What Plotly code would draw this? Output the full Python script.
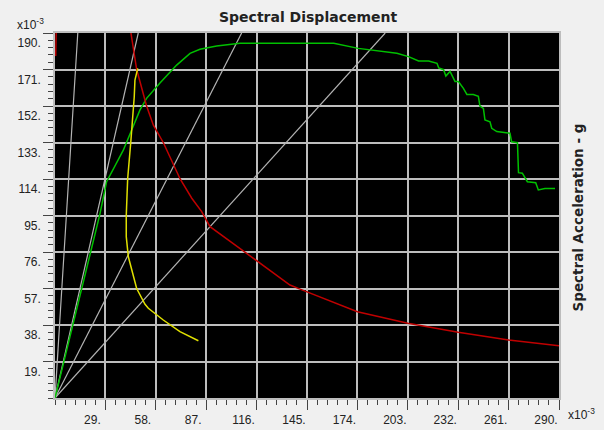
import plotly.graph_objects as go

# ---- data (units of 1e-3) ----
x_ticks = [29, 58, 87, 116, 145, 174, 203, 232, 261, 290]
x_tick_labels = ["29.", "58.", "87.", "116.", "145.", "174.", "203.", "232.", "261.", "290."]
y_ticks = [19, 38, 57, 76, 95, 114, 133, 152, 171, 190]
y_tick_labels = ["19.", "38.", "57.", "76.", "95.", "114.", "133.", "152.", "171.", "190."]

# radial period lines from origin: end points
ray_end_x = [13.1, 47.9, 107.4, 190.0]
ray_end_y = [190, 190, 190, 190]

# demand spectrum (red)
red_x = [0.4, 0.9, None, 43.7, 47.0, 52.7, 56.6, 62.3, 72.0, 78.7, 84.4, 89.2, 114.0, 135.2, 141.0,
         174.0, 203.0, 232.0, 261.0, 290.0]
red_y = [178, 200, None, 190, 171, 152, 142, 133, 114, 104, 97, 89.2, 72.7, 58.8, 56.7,
         44.9, 38.9, 34.2, 30.2, 27.2]

# reduced demand / performance (yellow)
yellow_x = [47.6, 46.0, 45.6, 45.1, 43.7, 41.8, 41.0, 41.0, 42.2, 47.0, 51.8, 53.7, 62.3, 71.9, 82.5]
yellow_y = [171.6, 165.5, 156.8, 149.9, 134.3, 114, 95, 84, 73.5, 57, 48.8, 46.7, 40.6, 34.5, 29.8]

# capacity curve (green)
green_x = [0, 25.9, 29.7, 39.3, 48.9, 52.7, 60.4, 70.0, 77.7, 83.4, 93.0, 106.4, 160.4, 174.5,
           196.7, 203.4, 209.2, 215.0, 219.8, 220.8, 223.6, 224.9, 227.3, 230.2, 232.1, 235.0,
           237.0, 240.7, 243.6, 244.5, 246.5, 247.4, 250.3, 251.3, 254.2, 261.8, 262.7, 266.1,
           266.7, 268.9, 271.8, 276.6, 278.1, 281.9, 287.7]
green_y = [0, 96, 112.6, 129, 150, 156, 164, 173.3, 179.4, 181.5, 183.2, 184.6, 184.6, 182.0,
           179.4, 177.7, 175.4, 175.4, 174.2, 171.8, 170.9, 167.6, 170.0, 164.7, 164.7, 161.2,
           158.0, 158.0, 157.0, 152.0, 150.7, 144.7, 143.8, 140.4, 138.7, 137.8, 133.4, 132.9,
           117.3, 117.0, 112.6, 112.1, 108.3, 109.1, 109.1]

fig = go.Figure()

for ex, ey in zip(ray_end_x, ray_end_y):
    fig.add_trace(go.Scatter(x=[0, ex], y=[0, ey], mode="lines",
                             line=dict(color="#b4b4b4", width=1.2), hoverinfo="skip"))

fig.add_trace(go.Scatter(x=green_x, y=green_y, mode="lines",
                         line=dict(color="#00c000", width=1.5)))
fig.add_trace(go.Scatter(x=red_x, y=red_y, mode="lines", connectgaps=False,
                         line=dict(color="#c00000", width=1.5)))
fig.add_trace(go.Scatter(x=yellow_x, y=yellow_y, mode="lines",
                         line=dict(color="#e0e000", width=1.5)))

tickfont = dict(family="Liberation Sans, Arial, sans-serif", size=12, color="#222222")
axis_common = dict(
    ticks="outside", ticklen=10, tickcolor="#444444", tickwidth=1,
    showgrid=True, gridcolor="#bdbdbd", gridwidth=1.5,
    showline=True, linecolor="#bdbdbd", linewidth=1.5, mirror=True,
    zeroline=False, tickfont=tickfont, fixedrange=True, automargin=False,
)

fig.update_xaxes(range=[0, 290], tickmode="array", tickvals=x_ticks, ticktext=x_tick_labels,
                 minor=dict(tick0=0, dtick=5.8, ticks="outside", ticklen=5,
                            tickcolor="#444444", showgrid=False),
                 ticklabelshift=-13, **axis_common)
fig.update_yaxes(range=[0, 190], tickmode="array", tickvals=y_ticks, ticktext=y_tick_labels,
                 minor=dict(tick0=0, dtick=3.8, ticks="outside", ticklen=5,
                            tickcolor="#444444", showgrid=False),
                 ticklabelshift=10, **axis_common)

boldfont = "DejaVu Sans, Verdana, sans-serif"
fig.update_layout(
    width=604, height=430,
    margin=dict(l=55, r=45, t=33, b=32, autoexpand=False),
    paper_bgcolor="#f0f0f0", plot_bgcolor="black",
    showlegend=False,
    annotations=[
        dict(text="<b>Spectral Displacement</b>", xref="paper", yref="paper",
             x=0.502, y=1.0, yshift=16, xanchor="center", yanchor="middle",
             showarrow=False, font=dict(family=boldfont, size=14, color="#222222")),
        dict(text="<b>Spectral Acceleration - g</b>", xref="paper", yref="paper",
             x=1.0377, y=0.4945, xanchor="center", yanchor="middle", textangle=-90,
             showarrow=False, font=dict(family=boldfont, size=13.5, color="#222222")),
        dict(text="x10<sup>-3</sup>", xref="paper", yref="paper",
             x=-0.079, y=1.0, yshift=9, xanchor="left", yanchor="middle",
             showarrow=False, font=tickfont),
        dict(text="x10<sup>-3</sup>", xref="paper", yref="paper",
             x=1.013, y=0.0, yshift=-16, xanchor="left", yanchor="middle",
             showarrow=False, font=tickfont),
    ],
)

fig.write_html("out.html", config={"displayModeBar": False},
               post_script="document.body.style.margin='0';document.body.style.overflow='hidden';")
